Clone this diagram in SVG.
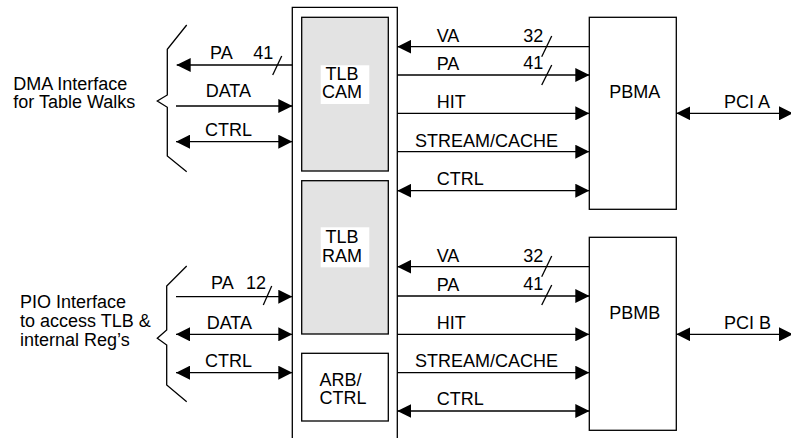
<svg xmlns="http://www.w3.org/2000/svg" width="791" height="438" viewBox="0 0 791 438">
<style>
text{font-family:"Liberation Sans",Arial,sans-serif;font-size:18px;fill:#000}
.ln{stroke:#000;stroke-width:1.3;fill:none}
.box{stroke:#000;stroke-width:1.3;fill:#fff}
.grey{stroke:#000;stroke-width:1.3;fill:#e3e3e3}
.arr{marker-end:url(#ah)}
.both{marker-start:url(#ah);marker-end:url(#ah)}
</style>
<defs>
<marker id="ah" markerUnits="userSpaceOnUse" markerWidth="14" markerHeight="14" refX="14" refY="7" orient="auto-start-reverse">
<path d="M0,0 L14,7 L0,14 z" fill="#000"/>
</marker>
</defs>
<rect width="791" height="438" fill="#fff"/>

<g id="dma-label">
<path class="ln" d="M186.7,25 L167.3,49.3 V95 L157.3,101 L167.3,107.3 V156 L186.7,171.7"/>
<text x="13.3" y="90">DMA Interface</text>
<text x="13.3" y="108.3">for Table Walks</text>
</g>
<g id="pio-label">
<path class="ln" d="M186.7,266 L166.7,286 V330 L157.3,338.3 L166.7,345 V385 L186.7,401.7"/>
<text x="20" y="308.3">PIO Interface</text>
<text x="20" y="327.3">to access TLB &amp;</text>
<text x="20" y="346">internal Reg’s</text>
</g>

<g id="mmu-column">
<path class="ln" d="M292.3,440 V7.3 H397.3 V440"/>
</g>
<g id="tlb-cam">
<rect class="grey" x="301.7" y="17.3" width="86.6" height="153.7"/>
<rect x="320.7" y="65.3" width="48.6" height="38.7" fill="#fff"/>
<text x="342" y="80" text-anchor="middle">TLB</text>
<text x="342" y="98.3" text-anchor="middle">CAM</text>
</g>
<g id="tlb-ram">
<rect class="grey" x="301.7" y="180.7" width="86.6" height="153.3"/>
<rect x="320.7" y="227.3" width="48.6" height="40" fill="#fff"/>
<text x="342" y="242.7" text-anchor="middle">TLB</text>
<text x="342" y="261.7" text-anchor="middle">RAM</text>
</g>
<g id="arb-ctrl">
<rect class="box" x="301.7" y="353.3" width="86.6" height="67.7"/>
<text x="319.5" y="386">ARB/</text>
<text x="319.5" y="404.3">CTRL</text>
</g>
<g id="pbma">
<rect class="box" x="589.3" y="17.3" width="87" height="192"/>
<text x="609.3" y="98.3">PBMA</text>
</g>
<g id="pbmb">
<rect class="box" x="589.3" y="237.3" width="87" height="193"/>
<text x="609.3" y="319.3">PBMB</text>
</g>

<g id="connectors">
<!-- left top -->
<line class="ln arr" x1="292.3" y1="65" x2="176.7" y2="65"/>
<line class="ln" x1="272.7" y1="75" x2="281.7" y2="56"/>
<line class="ln arr" x1="176" y1="106" x2="292.3" y2="106"/>
<line class="ln both" x1="176" y1="141.7" x2="292.3" y2="141.7"/>
<!-- left bottom -->
<line class="ln arr" x1="176" y1="296.7" x2="292.3" y2="296.7"/>
<line class="ln" x1="263.3" y1="305" x2="271.7" y2="286"/>
<line class="ln both" x1="176" y1="334.3" x2="292.3" y2="334.3"/>
<line class="ln both" x1="176" y1="372.7" x2="292.3" y2="372.7"/>
<!-- right top -->
<line class="ln arr" x1="589.3" y1="46.7" x2="397.3" y2="46.7"/>
<line class="ln" x1="541.7" y1="56.7" x2="551.7" y2="36"/>
<line class="ln arr" x1="397.3" y1="75" x2="589.3" y2="75"/>
<line class="ln" x1="541.7" y1="85" x2="551.7" y2="65"/>
<line class="ln arr" x1="397.3" y1="113.3" x2="589.3" y2="113.3"/>
<line class="ln arr" x1="397.3" y1="151.7" x2="589.3" y2="151.7"/>
<line class="ln both" x1="397.3" y1="190.7" x2="589.3" y2="190.7"/>
<!-- right bottom -->
<line class="ln arr" x1="589.3" y1="266.7" x2="397.3" y2="266.7"/>
<line class="ln" x1="541.7" y1="276.7" x2="551.7" y2="256"/>
<line class="ln arr" x1="397.3" y1="296" x2="589.3" y2="296"/>
<line class="ln" x1="541.7" y1="305" x2="551.7" y2="285"/>
<line class="ln arr" x1="397.3" y1="334.3" x2="589.3" y2="334.3"/>
<line class="ln arr" x1="397.3" y1="372.7" x2="589.3" y2="372.7"/>
<line class="ln both" x1="397.3" y1="411" x2="589.3" y2="411"/>
<!-- PCI -->
<line class="ln both" x1="676.3" y1="113.3" x2="793" y2="113.3"/>
<line class="ln both" x1="676.3" y1="334.3" x2="793" y2="334.3"/>
</g>

<g id="labels">
<text x="210" y="59.3">PA</text>
<text x="253.3" y="59.3">41</text>
<text x="205.7" y="96.7">DATA</text>
<text x="205" y="136">CTRL</text>
<text x="211" y="289.3">PA</text>
<text x="246" y="289.3">12</text>
<text x="206.7" y="329.3">DATA</text>
<text x="205" y="366.7">CTRL</text>
<text x="436.7" y="41.7">VA</text>
<text x="523.3" y="41.7">32</text>
<text x="436.7" y="70">PA</text>
<text x="523.3" y="69">41</text>
<text x="436.7" y="108.3">HIT</text>
<text x="415" y="146.7">STREAM/CACHE</text>
<text x="436.7" y="185">CTRL</text>
<text x="436.7" y="261.7">VA</text>
<text x="523.3" y="261.7">32</text>
<text x="436.7" y="290.7">PA</text>
<text x="523.3" y="289.7">41</text>
<text x="436.7" y="329">HIT</text>
<text x="415" y="367.3">STREAM/CACHE</text>
<text x="436.7" y="405">CTRL</text>
<text x="724" y="108.3">PCI A</text>
<text x="724" y="329">PCI B</text>
</g>
</svg>
